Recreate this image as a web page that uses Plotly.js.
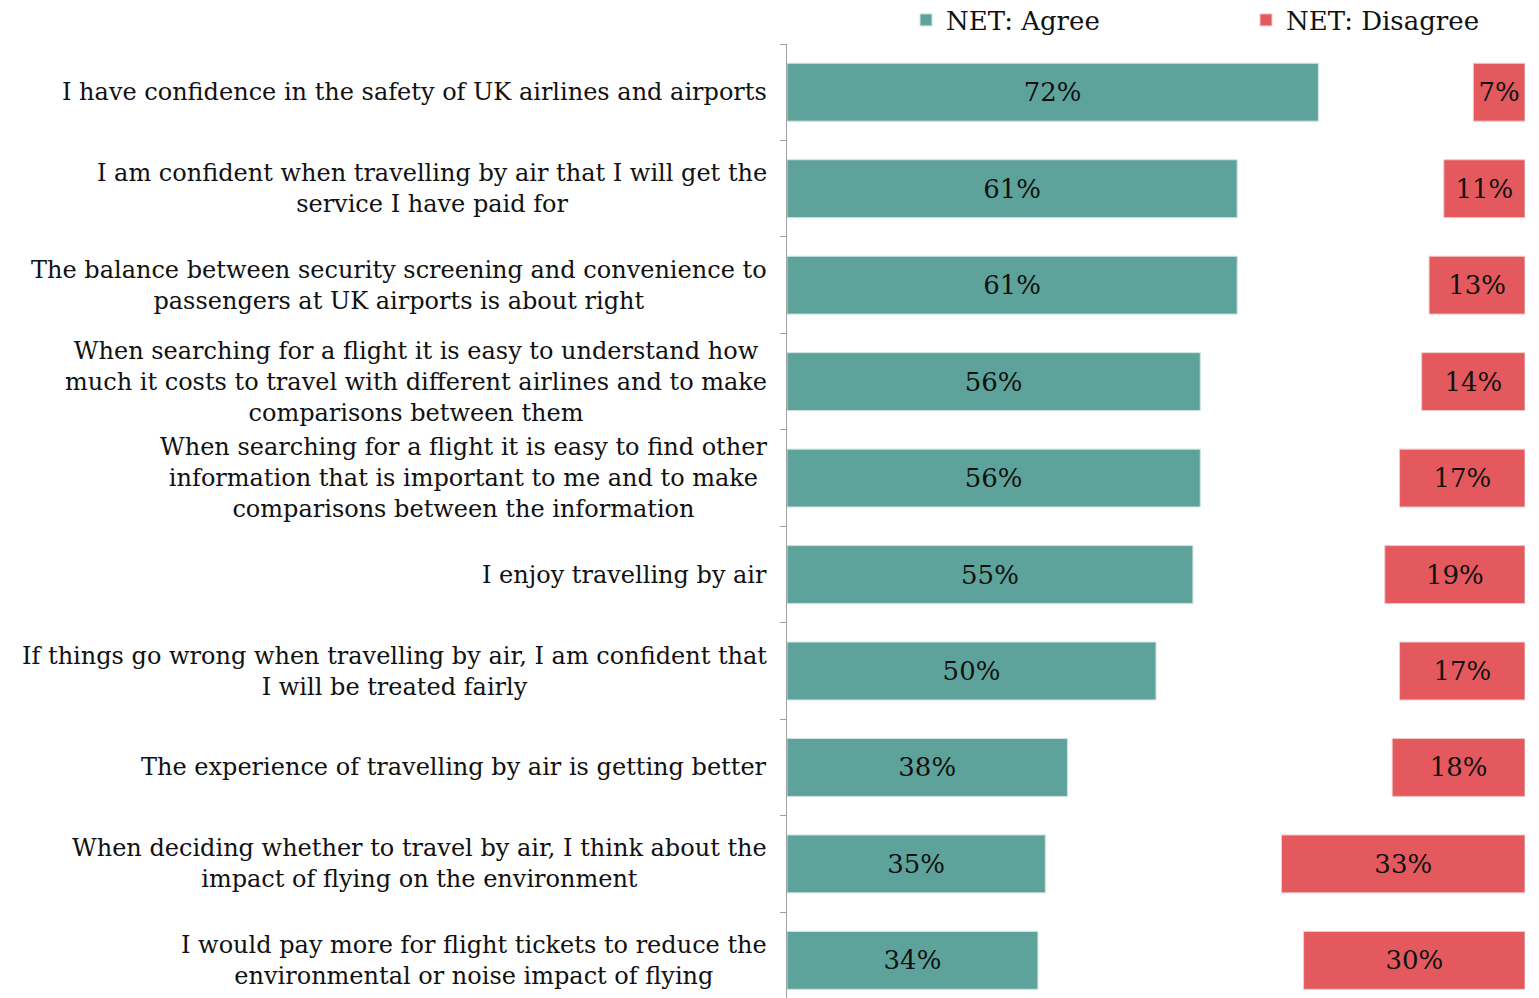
<!DOCTYPE html>
<html>
<head>
<meta charset="utf-8">
<script src="https://cdn.plot.ly/plotly-3.0.1.min.js"></script>
<style>
html,body{margin:0;padding:0;background:#fff;}
#chart{width:1539px;height:998px;}
</style>
</head>
<body>
<div id="chart"></div>
<script>
const categories = [
  "I have confidence in the safety of UK airlines and airports",
  "I am confident when travelling by air that I will get the<br>service I have paid for",
  "The balance between security screening and convenience to<br>passengers at UK airports is about right",
  "When searching for a flight it is easy to understand how<br>much it costs to travel with different airlines and to make<br>comparisons between them",
  "When searching for a flight it is easy to find other<br>information that is important to me and to make<br>comparisons between the information",
  "I enjoy travelling by air",
  "If things go wrong when travelling by air, I am confident that<br>I will be treated fairly",
  "The experience of travelling by air is getting better",
  "When deciding whether to travel by air, I think about the<br>impact of flying on the environment",
  "I would pay more for flight tickets to reduce the<br>environmental or noise impact of flying"
];
const agree    = [72, 61, 61, 56, 56, 55, 50, 38, 35, 34];
const disagree = [7, 11, 13, 14, 17, 19, 17, 18, 33, 30];
const seriesNames = ["NET: Agree", "NET: Disagree"];

const FONT = "DejaVu Serif, Georgia, serif";
const TEAL = "#5ea39b";
const RED = "#e3595e";

const traces = [
  {
    type: "bar", orientation: "h", name: seriesNames[0], legend: "legend",
    y: categories, x: agree,
    text: agree.map(v => v + "%"),
    textposition: "inside", insidetextanchor: "middle",
    constraintext: "none",
    textfont: {family: FONT, size: 26, color: "#111"},
    marker: {color: TEAL, line: {color: "#cfe3e0", width: 1}},
    hoverinfo: "skip"
  },
  {
    type: "bar", orientation: "h", name: seriesNames[1], legend: "legend2",
    y: categories, x: disagree,
    base: disagree.map(v => 100 - v),
    text: disagree.map(v => v + "%"),
    textposition: "inside", insidetextanchor: "middle",
    constraintext: "none",
    textfont: {family: FONT, size: 26, color: "#111"},
    marker: {color: RED, line: {color: "#f3c9ca", width: 1}},
    hoverinfo: "skip"
  }
];

const annotations = categories.map(c => ({
  xref: "paper", yref: "y", x: 0, y: c,
  xanchor: "right", yanchor: "middle", xshift: -18,
  text: c, showarrow: false, align: "center",
  font: {family: FONT, size: 24, color: "#111"}
}));

const legendCommon = {
  orientation: "h", xref: "container", yref: "container",
  xanchor: "left", y: 1 - 20 / 998, yanchor: "middle",
  font: {family: FONT, size: 26, color: "#111"},
  itemclick: false, bgcolor: "rgba(0,0,0,0)", borderwidth: 0
};

const layout = {
  width: 1539, height: 998,
  margin: {l: 787, r: 14, t: 44, b: 0, pad: 0, autoexpand: false},
  paper_bgcolor: "#fff", plot_bgcolor: "#fff",
  barmode: "overlay", bargap: 0.4,
  font: {family: FONT, size: 24, color: "#111"},
  showlegend: true,
  legend: Object.assign({}, legendCommon, {x: 906 / 1539}),
  legend2: Object.assign({}, legendCommon, {x: 1246 / 1539}),
  xaxis: {range: [0, 100], visible: false, fixedrange: true},
  yaxis: {
    type: "category", categoryorder: "array", categoryarray: categories,
    range: [9.39, -0.5], autorange: false,
    showticklabels: false, tickson: "boundaries",
    ticks: "outside", ticklen: 6, tickcolor: "#a0a0a0", tickwidth: 1,
    showline: true, linecolor: "#a0a0a0", linewidth: 1,
    showgrid: false, zeroline: false, fixedrange: true
  },
  annotations: annotations
};

Plotly.newPlot("chart", traces, layout, {displayModeBar: false, staticPlot: true});
</script>
</body>
</html>
